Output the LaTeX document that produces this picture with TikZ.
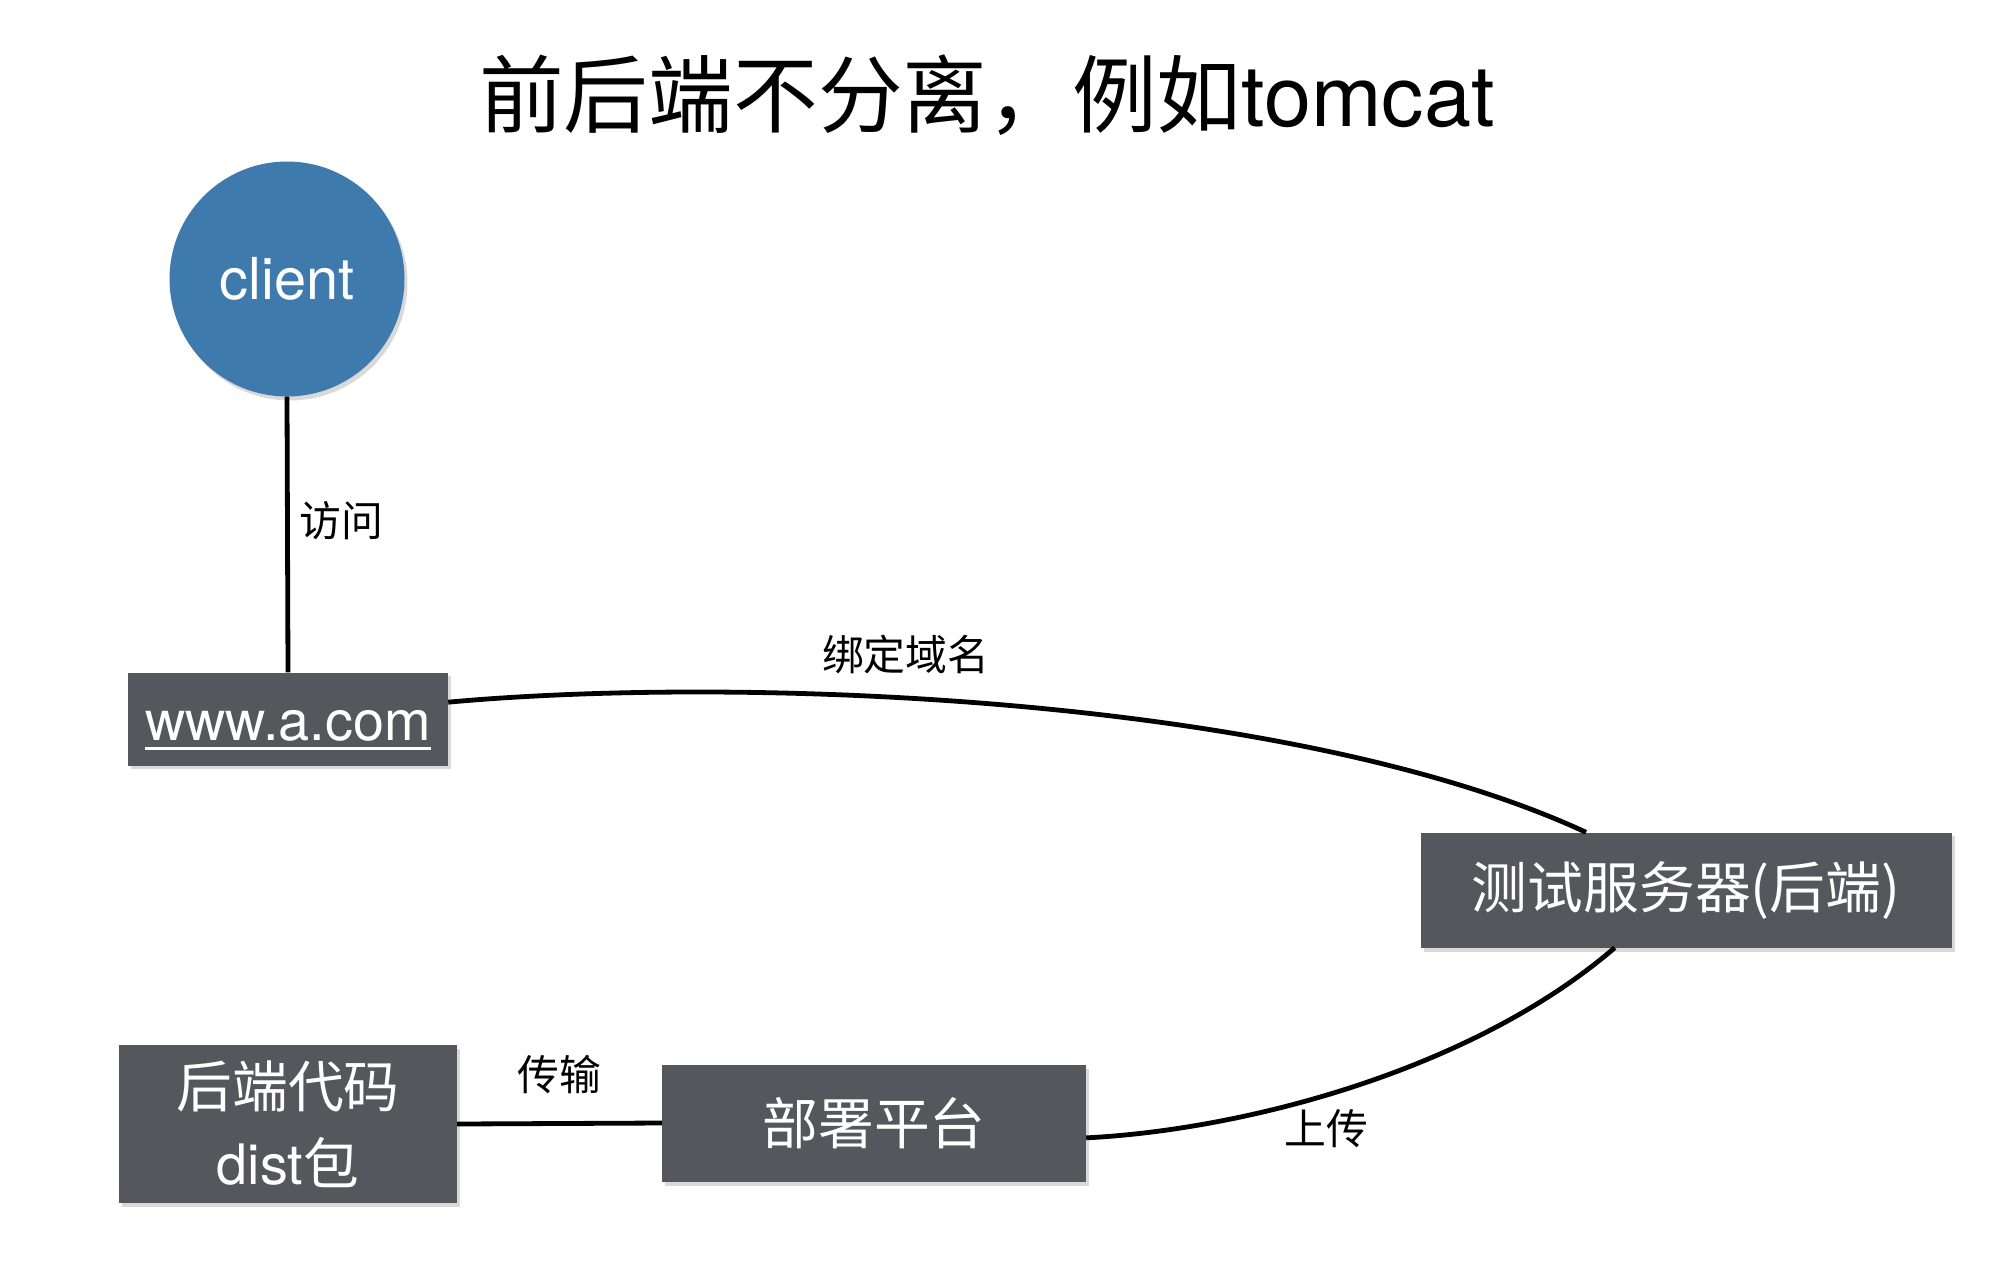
\documentclass[tikz,border=0pt]{standalone}
\usepackage{fontspec}
\setmainfont{TeX Gyre Heros}
\newfontfamily\cjk{Noto Sans CJK SC}
\usetikzlibrary{shadows}
\definecolor{clientblue}{HTML}{3F7AAD}
\definecolor{boxgray}{HTML}{54575C}
\newcommand\linktext[1]{\leavevmode\vtop{\hbox{#1}\kern6pt\hrule height 2.5pt}}

\begin{document}
\begin{tikzpicture}[x=1bp,y=-1bp,
    box/.style={rectangle,fill=boxgray,text=white,inner sep=0pt,align=center,
        font=\fontsize{56}{77}\selectfont,
        drop shadow={shadow xshift=3pt,shadow yshift=-4pt,opacity=0.3}},
    link/.style={line width=4.8bp},
    tag/.style={font=\cjk\fontsize{42}{42}\selectfont,inner sep=0pt}]
    \useasboundingbox (0,0) rectangle (2000,1274);

    \node (title) at (987,95) {\fontsize{85}{85}\selectfont{\cjk 前后端不分离，例如}tomcat};

    \node [circle,fill=clientblue,text=white,minimum size=235bp,inner sep=0pt,
        font=\fontsize{58}{58}\selectfont,
        drop shadow={shadow xshift=3pt,shadow yshift=-4pt,opacity=0.3}] (client) at (287,279) {client};
    \node [box,minimum width=320bp,minimum height=93bp,text height=48pt,text depth=5pt] (www) at (288,719) {\linktext{www.a.com}};
    \node [box,minimum width=531bp,minimum height=115bp] (srv) at (1686,890) {{\cjk 测试服务器(后端)}};
    \node [box,minimum width=424bp,minimum height=117bp] (dep) at (874,1123) {{\cjk 部署平台}};
    \node [box,minimum width=338bp,minimum height=158bp] (code) at (288,1124) {{\cjk 后端代码}\\dist{\cjk 包}};

    \draw [link](client.south) -- (www.north) node[tag,anchor=west,pos=0.45,xshift=10pt](visit){访问};
    \draw [link](www.6) .. controls (746,675) and (1294,697) .. (srv.150) node[tag,anchor=south,pos=0.41,yshift=22pt](bind){绑定域名};
    \draw [link](srv.219) .. controls (1473,1070) and (1244,1130) .. (dep.356) node[tag,anchor=north west,pos=0.63](upload){上传};
    \draw [link](code.east) -- (dep.west) node[tag,anchor=south,pos=0.5,yshift=27pt](send){传输};
\end{tikzpicture}
\end{document}
